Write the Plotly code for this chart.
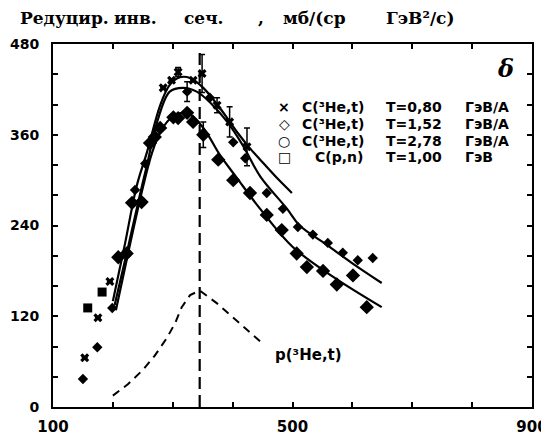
import plotly.graph_objects as go

# ---------------- data ----------------
# Series × : C(3He,t) T=0.80 GeV/A
ax_x = [153, 175, 195, 223, 248, 284, 298, 309, 334, 349, 374, 395, 424]
ax_y = [65, 118, 166, 203, 271, 422, 432, 443, 432, 441, 399, 377, 344]
ax_e = [0, 0, 0, 0, 0, 0, 0, 6, 0, 25, 10, 20, 25]

# Series ◇ : C(3He,t) T=1.52 GeV/A (small diamonds)
bx_x = [150, 174, 199, 237, 254, 324, 362, 401, 421, 457, 484, 509, 534, 559, 584, 609, 634]
bx_y = [37, 79, 131, 287, 322, 417, 409, 350, 329, 283, 262, 238, 228, 217, 204, 194, 197]
bx_e = [0, 0, 0, 0, 0, 13, 0, 0, 0, 0, 0, 0, 0, 0, 0, 0, 0]

# Series ○ : C(3He,t) T=2.78 GeV/A (large blobs)
cx_x = [209, 223, 232, 248, 262, 270, 279, 301, 309, 324, 334, 351, 376, 401, 429, 457,
        482, 507, 524, 551, 574, 601, 624]
cx_y = [198, 203, 270, 271, 349, 357, 369, 383, 382, 389, 377, 360, 327, 300, 283, 254,
        234, 203, 185, 180, 162, 174, 132]
cx_e = [0, 0, 0, 0, 0, 0, 0, 0, 0, 0, 0, 17, 0, 0, 0, 0, 0, 0, 0, 0, 0, 0, 0]

# Series □ : C(p,n) T=1.00 GeV
dx_x = [158, 182]
dx_y = [131, 152]

# Model curves
top_x = [200, 220, 240, 257, 279, 295, 312, 329, 351, 379, 407, 429, 446, 475, 499]
top_y = [140, 215, 293, 337, 399, 426, 436, 435, 422, 395, 364, 342, 327, 302, 283]
mid_x = [203, 225, 245, 257, 274, 295, 317, 340, 362, 391, 417, 446, 491, 512, 558, 600, 649]
mid_y = [135, 210, 280, 320, 377, 417, 422, 417, 403, 377, 346, 305, 262, 240, 214, 190, 164]
bot_x = [205, 230, 250, 265, 280, 300, 324, 351, 379, 407, 446, 500, 568, 649]
bot_y = [128, 220, 290, 335, 365, 384, 389, 369, 333, 303, 262, 212, 172, 132]

# p(3He,t) curve (dashed)
p_x = [200, 225, 250, 270, 290, 304, 315, 329, 345, 374, 400, 424, 450]
p_y = [15, 30, 49, 68, 91, 111, 132, 148, 154, 137, 119, 102, 84]

# Vertical dashed line position and extent
vline_x = [345, 345]
vline_y = [0, 475]

x_ticks = [100, 200, 300, 400, 500, 600, 700, 800, 900]
x_labels = ["100", "", "", "", "500", "", "", "", "900"]
y_ticks = [0, 40, 80, 120, 160, 200, 240, 280, 320, 360, 400, 440, 480]
y_labels = ["0", "", "", "120", "", "", "240", "", "", "360", "", "", "480"]

legend_sym = ["×", "◇", "○", "□"]
legend_reac = ["C(³He,t)", "C(³He,t)", "C(³He,t)", "C(p,n)"]
legend_T = ["T=0,80", "T=1,52", "T=2,78", "T=1,00"]
legend_unit = ["ГэВ/А", "ГэВ/А", "ГэВ/А", "ГэВ"]
title_words = ["Редуцир.", "инв.", "сеч.", ",", "мб/(ср", "ГэВ²/с)"]

# ---------------- figure ----------------
OFF = 8  # page body margin
W, H = 549 - OFF, 437 - OFF
L, R, T, B = 53 - OFF, 17, 44 - OFF, 30
pw, ph = W - L - R, H - T - B

def px(x):  # page pixel -> paper
    return (x - OFF - L) / pw

def py(y):
    return (H - B - (y - OFF)) / ph

fig = go.Figure()

for cx, cy in [(top_x, top_y), (mid_x, mid_y), (bot_x, bot_y)]:
    fig.add_trace(go.Scatter(x=cx, y=cy, mode="lines",
                             line=dict(color="black", width=2.2, shape="spline", smoothing=1.0),
                             hoverinfo="skip", showlegend=False))

fig.add_trace(go.Scatter(x=p_x, y=p_y, mode="lines",
                         line=dict(color="black", width=2, dash="8px,6px"),
                         showlegend=False))
fig.add_trace(go.Scatter(x=vline_x, y=vline_y, mode="lines",
                         line=dict(color="black", width=2.2, dash="12px,6px"),
                         showlegend=False))

def err(e):
    return dict(type="data", array=e, visible=True, color="black", thickness=1.5, width=3)

fig.add_trace(go.Scatter(x=cx_x, y=cx_y, mode="markers", error_y=err(cx_e),
                         marker=dict(symbol="diamond", size=11, color="black"), showlegend=False))
fig.add_trace(go.Scatter(x=bx_x, y=bx_y, mode="markers", error_y=err(bx_e),
                         marker=dict(symbol="diamond", size=8, color="black"), showlegend=False))
fig.add_trace(go.Scatter(x=ax_x, y=ax_y, mode="markers", error_y=err(ax_e),
                         marker=dict(symbol="x", size=8, color="black"), showlegend=False))
fig.add_trace(go.Scatter(x=dx_x, y=dx_y, mode="markers",
                         marker=dict(symbol="square", size=9, color="black"), showlegend=False))

ann = []
title_x = [18, 112, 182, 256, 281, 384]
for w, xx in zip(title_words, title_x):
    ann.append(dict(text=w, x=px(xx), y=py(18), xref="paper", yref="paper",
                    xanchor="left", yanchor="middle", showarrow=False,
                    font=dict(family="DejaVu Serif", size=17, color="black", weight="bold")))

rows_y = [107, 124, 141, 157]
legfont = dict(family="DejaVu Sans", size=14, color="black", weight="bold")
for i in range(4):
    ann.append(dict(text=legend_sym[i], x=px(284), y=py(rows_y[i]), xref="paper", yref="paper",
                    xanchor="center", yanchor="middle", showarrow=False, font=legfont))
    ann.append(dict(text=legend_reac[i], x=px(300 if i < 3 else 313), y=py(rows_y[i]),
                    xref="paper", yref="paper", xanchor="left", yanchor="middle",
                    showarrow=False, font=legfont))
    ann.append(dict(text=legend_T[i], x=px(384), y=py(rows_y[i]),
                    xref="paper", yref="paper", xanchor="left", yanchor="middle",
                    showarrow=False, font=legfont))
    ann.append(dict(text=legend_unit[i], x=px(463), y=py(rows_y[i]),
                    xref="paper", yref="paper", xanchor="left", yanchor="middle",
                    showarrow=False, font=legfont))

ann.append(dict(text="δ", x=px(505), y=py(68), xref="paper", yref="paper",
                xanchor="center", yanchor="middle", showarrow=False,
                font=dict(family="DejaVu Serif", size=24, color="black", style="italic", weight="bold")))
ann.append(dict(text="p(³He,t)", x=px(308), y=py(355), xref="paper", yref="paper",
                xanchor="center", yanchor="middle", showarrow=False,
                font=dict(family="DejaVu Sans", size=15, color="black", weight="bold")))

fig.update_layout(
    width=W, height=H, margin=dict(l=L, r=R, t=T, b=B, autoexpand=False),
    paper_bgcolor="white", plot_bgcolor="white",
    annotations=ann, showlegend=False,
)
axis_common = dict(showline=True, linecolor="black", linewidth=2, mirror="ticks",
                   ticks="inside", ticklen=5, tickwidth=1.5, tickcolor="black",
                   showgrid=False, zeroline=False, automargin=False)
fig.update_xaxes(range=[100, 900], tickvals=x_ticks, ticktext=x_labels,
                 ticklabelstandoff=5,
                 tickfont=dict(family="DejaVu Sans", size=15, color="black", weight="bold"),
                 **axis_common)
fig.update_yaxes(range=[0, 480], tickvals=y_ticks, ticktext=y_labels,
                 ticklabelstandoff=9,
                 tickfont=dict(family="DejaVu Sans", size=14, color="black", weight="bold"),
                 **axis_common)

fig.write_html("out.html")
